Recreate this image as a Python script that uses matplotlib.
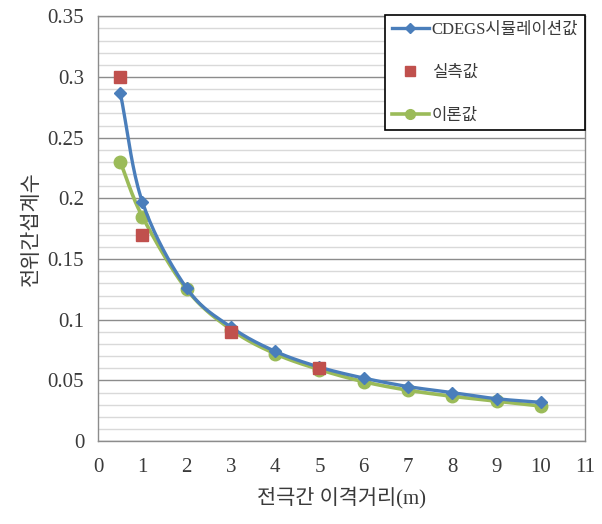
import numpy as np
import matplotlib
matplotlib.use("Agg")
import matplotlib.pyplot as plt
from matplotlib.lines import Line2D

# --- data ---
x_dist = [0.5, 1, 2, 3, 4, 5, 6, 7, 8, 9, 10]
cdegs = [0.287, 0.197, 0.126, 0.094, 0.074, 0.061, 0.052, 0.045, 0.040, 0.035, 0.032]
x_meas = [0.5, 1, 3, 5]
measured = [0.300, 0.170, 0.090, 0.060]
theory = [0.230, 0.185, 0.125, 0.092, 0.072, 0.059, 0.049, 0.042, 0.037, 0.033, 0.029]

x_ticks = list(range(0, 12))
y_ticks = [0, 0.05, 0.1, 0.15, 0.2, 0.25, 0.3, 0.35]
y_tick_labels = ["0", "0.05", "0.1", "0.15", "0.2", "0.25", "0.3", "0.35"]

labels = ["CDEGS시뮬레이션값", "실측값", "이론값"]
x_label = "전극간 이격거리(m)"
y_label = "전위간섭계수"

FONTS = ["Liberation Serif", "Noto Sans CJK KR"]
plt.rcParams["font.family"] = FONTS

BLUE = "#4A7EBB"
RED = "#C0504D"
GREEN = "#9BBB59"
TEXT = "#3a3a3a"


def smooth(xs, ys, n=20):
    """Catmull-Rom path through the points, like Excel's smoothed line."""
    p = np.column_stack([xs, ys]).astype(float)
    p = np.vstack([2 * p[0] - p[1], p, 2 * p[-1] - p[-2]])
    out = []
    t = np.linspace(0, 1, n, endpoint=False)[:, None]
    for i in range(1, len(p) - 2):
        p0, p1, p2, p3 = p[i - 1], p[i], p[i + 1], p[i + 2]
        seg = 0.5 * ((2 * p1) + (-p0 + p2) * t
                     + (2 * p0 - 5 * p1 + 4 * p2 - p3) * t ** 2
                     + (-p0 + 3 * p1 - 3 * p2 + p3) * t ** 3)
        out.append(seg)
    out.append(p[-2][None, :])
    out = np.vstack(out)
    return out[:, 0], out[:, 1]


fig = plt.figure(figsize=(6.02, 5.24), dpi=100)
ax = fig.add_axes([0.163, 0.158, 0.809, 0.811])

# grid
ax.set_yticks(np.arange(0, 0.3501, 0.01), minor=True)
ax.grid(which="minor", axis="y", color="#d9d9d9", linewidth=1.0)
ax.grid(which="major", axis="y", color="#8c8c8c", linewidth=1.0)
ax.set_axisbelow(True)

# series
sx, sy = smooth(x_dist, theory)
ax.plot(sx, sy, color=GREEN, linewidth=2.6, zorder=3)
ax.plot(x_dist, theory, "o", color=GREEN, markersize=9, zorder=4)

sx, sy = smooth(x_dist, cdegs)
ax.plot(sx, sy, color=BLUE, linewidth=2.4, zorder=5)
ax.plot(x_dist, cdegs, "D", color=BLUE, markersize=6, zorder=6)

ax.plot(x_meas, measured, "s", color=RED, markersize=8, zorder=7)

ax.set_xlim(0, 11)
ax.set_ylim(0, 0.35)
ax.set_xticks(x_ticks)
ax.set_yticks(y_ticks)
ax.set_yticklabels(y_tick_labels)
ax.tick_params(axis="both", which="both", length=0)
ax.tick_params(axis="both", labelsize=15, colors=TEXT, pad=12)
ax.tick_params(axis="y", pad=10)

for s in ax.spines.values():
    s.set_color("#8c8c8c")
    s.set_linewidth(1.0)

ax.set_xlabel(x_label, fontsize=15, color=TEXT, labelpad=7)
ax.set_ylabel(y_label, fontsize=15, color=TEXT, labelpad=4)

handles = [
    Line2D([], [], color=BLUE, linewidth=2.4, marker="D", markersize=5),
    Line2D([], [], color=RED, linestyle="none", marker="s", markersize=7),
    Line2D([], [], color=GREEN, linewidth=2.6, marker="o", markersize=7),
]
leg = ax.legend(handles, labels, loc="upper right", bbox_to_anchor=(1.0, 1.002),
                borderaxespad=0, fancybox=False, edgecolor="black", framealpha=1,
                fontsize=12, labelspacing=1.6, handlelength=2.2,
                handletextpad=0.2, borderpad=0.4)
leg.get_frame().set_linewidth(1.2)
for t in leg.get_texts():
    t.set_color(TEXT)

fig.savefig("out.png", dpi=100)
